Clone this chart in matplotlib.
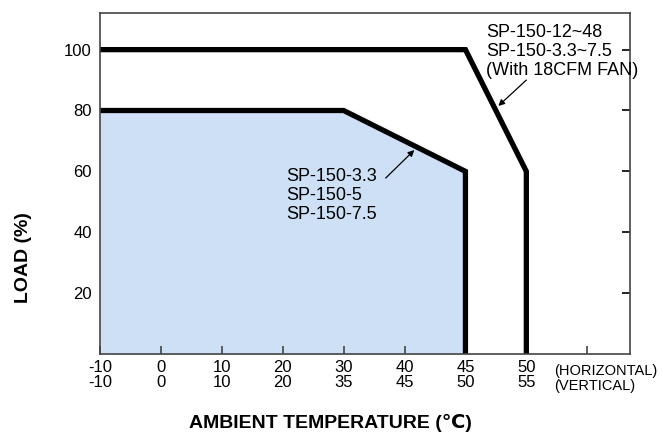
import numpy as np
import matplotlib.pyplot as plt

# --- data ---
temp_horizontal = [-10, 0, 10, 20, 30, 40, 45, 50]
temp_vertical = [-10, 0, 10, 20, 35, 45, 50, 55]
load_ticks = [20, 40, 60, 80, 100]

# SP-150-3.3 / 5 / 7.5 (convection)
conv_temp = [-10, 30, 45, 45]
conv_load = [80, 80, 60, 0]

# with 18CFM fan
fan_temp = [-10, 45, 50, 50]
fan_load = [100, 100, 60, 0]

# the temperature axis has evenly spaced ticks, so work in tick index
pos = np.arange(len(temp_horizontal))
conv_x = np.interp(conv_temp, temp_horizontal, pos)
fan_x = np.interp(fan_temp, temp_horizontal, pos)

plt.rcParams['font.family'] = ['Liberation Sans', 'DejaVu Sans']

fig = plt.figure(figsize=(6.63, 4.37), dpi=100)
ax = fig.add_axes([0.151, 0.190, 0.799, 0.780])

ax.fill_between(conv_x, conv_load, 0, color="#cde0f5", lw=0)
ax.plot(conv_x, conv_load, color="black", lw=3.8, solid_joinstyle="miter")
ax.plot(fan_x, fan_load, color="black", lw=3.8, solid_joinstyle="miter")

ax.set_xlim(0, 8.7)
ax.set_ylim(0, 112)

xt = list(pos) + [len(pos)]
xl = [f"{h}\n{v}" for h, v in zip(temp_horizontal, temp_vertical)] + [""]
ax.set_xticks(xt)
ax.set_xticklabels(xl, fontsize=12, linespacing=1.0)
ax.set_yticks(load_ticks)
ax.set_yticklabels([str(v) for v in load_ticks], fontsize=12)
ax.tick_params(axis="x", direction="in", length=6, width=1.2, color="#444444", pad=4)
ax.tick_params(axis="y", direction="in", length=0, pad=6, right=True)
for t in ax.yaxis.get_major_ticks():
    t.tick2line.set_markersize(6)
    t.tick2line.set_markeredgewidth(1.2)
    t.tick2line.set_color("#444444")
for s in ax.spines.values():
    s.set_color("#444444")
    s.set_linewidth(1.2)

ax.text(7.46, -3.2, "(HORIZONTAL)\n(VERTICAL)", fontsize=10.5, ha="left", va="top",
        linespacing=1.12, clip_on=False)

ax.text(3.05, 61.0, "SP-150-3.3\nSP-150-5\nSP-150-7.5", fontsize=13, ha="left",
        va="top", linespacing=1.15)
ax.annotate("", xy=(5.16, 67.0), xytext=(4.69, 57.8),
            arrowprops=dict(arrowstyle="-|>", color="black", lw=0.9,
                            mutation_scale=9, shrinkA=0, shrinkB=0))

ax.text(6.34, 108.5, "SP-150-12~48\nSP-150-3.3~7.5\n(With 18CFM FAN)", fontsize=13,
        ha="left", va="top", linespacing=1.15)
ax.annotate("", xy=(6.54, 81.5), xytext=(7.0, 90.0),
            arrowprops=dict(arrowstyle="-|>", color="black", lw=0.9,
                            mutation_scale=9, shrinkA=0, shrinkB=0))

fig.text(0.035, 0.41, "LOAD (%)", fontsize=14, fontweight="bold", rotation=90,
         ha="center", va="center")
fig.text(0.498, 0.032, "AMBIENT TEMPERATURE (\u2103)", fontsize=14, fontweight="bold",
         ha="center", va="center")

fig.savefig("out.png", dpi=100)
